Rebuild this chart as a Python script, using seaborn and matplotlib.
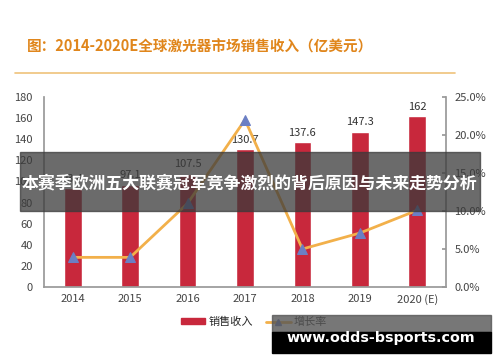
import matplotlib
matplotlib.use("Agg")
import matplotlib.pyplot as plt
import seaborn as sns
import pandas as pd
from matplotlib.patches import Rectangle, Patch
from matplotlib.lines import Line2D
from matplotlib.ticker import FuncFormatter

years = ["2014", "2015", "2016", "2017", "2018", "2019", "2020 (E)"]
revenue = [93.4, 97.1, 107.5, 130.7, 137.6, 147.3, 162]
growth = [3.9, 3.9, 11.0, 22.0, 5.0, 7.1, 10.1]
title = "图：2014-2020E全球激光器市场销售收入（亿美元）"
banner = "本赛季欧洲五大联赛冠军竞争激烈的背后原因与未来走势分析"
watermark = "www.odds-bsports.com"
legend_labels = ["销售收入", "增长率"]

sns.set_theme(style="white")
plt.rcParams['font.family'] = ['Noto Sans CJK SC', 'DejaVu Sans']

df = pd.DataFrame({"year": years, "revenue": revenue, "growth": growth})

fig = plt.figure(figsize=(5, 3.62), dpi=100)
W, H = 500, 362
ax = fig.add_axes([44 / W, 1 - 287 / H, (446 - 44) / W, (287 - 97) / H])

bar_color = "#c8283c"
line_color = "#f2b04a"
marker_color = "#6b7fc4"

sns.barplot(data=df, x="year", y="revenue", color=bar_color, width=0.31,
            saturation=1, ax=ax)
ax.set_xlim(-0.5, 6.5)
ax.set_ylim(0, 180)
ax.set_yticks(range(0, 181, 20))
ax.set_xlabel("")
ax.set_ylabel("")
for i, v in enumerate(revenue):
    lab = f"{v:g}" if v != int(v) else f"{int(v)}"
    ax.text(i, v + 4, lab, ha="center", va="bottom", fontsize=8, color="#333333")

ax2 = ax.twinx()
sns.lineplot(x=list(range(len(years))), y=growth, ax=ax2, color=line_color,
             linewidth=2, marker="^", markersize=7, markerfacecolor=marker_color,
             markeredgecolor=marker_color)
ax2.set_ylim(0, 25)
ax2.set_yticks([0, 5, 10, 15, 20, 25])
ax2.yaxis.set_major_formatter(FuncFormatter(lambda v, p: f"{v:.1f}%"))
ax2.set_xlim(-0.5, 6.5)

for a in (ax, ax2):
    for s in a.spines.values():
        s.set_visible(False)
ax.spines["left"].set_visible(True)
ax.spines["left"].set_color("#999999")
ax.spines["bottom"].set_visible(True)
ax.spines["bottom"].set_color("#999999")
ax2.spines["right"].set_visible(True)
ax2.spines["right"].set_color("#999999")

ax.tick_params(axis="y", labelsize=8, colors="#444444", length=0, pad=8)
ax.tick_params(axis="x", labelsize=8, colors="#444444", length=0, pad=5)
ax2.tick_params(axis="y", labelsize=8, colors="#444444", direction="in",
                length=3, color="#999999", pad=6)

# title and rule
fig.text(27 / W, 1 - 47 / H, title, fontsize=10.5, color="#e0861c",
         fontweight="bold", va="center", ha="left")
fig.add_artist(Line2D([15 / W, 455 / W], [1 - 73 / H, 1 - 73 / H],
                      color="#efc27a", linewidth=1.2))

# legend
handles = [Patch(color=bar_color),
           Line2D([], [], color=line_color, linewidth=2, marker="^",
                  markerfacecolor=marker_color, markeredgecolor=marker_color,
                  markersize=5)]
fig.legend(handles, legend_labels, loc="center", bbox_to_anchor=(254 / W, 1 - 322 / H),
           ncol=2, frameon=False, fontsize=8, handlelength=2.2, handletextpad=0.3,
           columnspacing=1.2, handleheight=0.5)

# banner overlay
fig.add_artist(Rectangle((20 / W, 1 - 211 / H), 460 / W, 59 / H,
                         transform=fig.transFigure, color="#3a3a3a", alpha=0.75,
                         zorder=10))
fig.text(249 / W, 1 - 183 / H, banner, fontsize=12.2, color="white",
         fontweight="bold", ha="center", va="center", zorder=11)

# watermark
fig.add_artist(Rectangle((272 / W, 1 - 332 / H), 219 / W, 17 / H,
                         transform=fig.transFigure, color="#555555", alpha=0.8,
                         zorder=10))
fig.add_artist(Rectangle((272 / W, 1 - 353 / H), 219 / W, 21 / H,
                         transform=fig.transFigure, color="black", zorder=10))
fig.text(381 / W, 1 - 338 / H, watermark, fontsize=10.3, color="white",
         fontweight="bold", ha="center", va="center", zorder=11,
         family=["DejaVu Sans"])

fig.savefig("out.png", dpi=100)
